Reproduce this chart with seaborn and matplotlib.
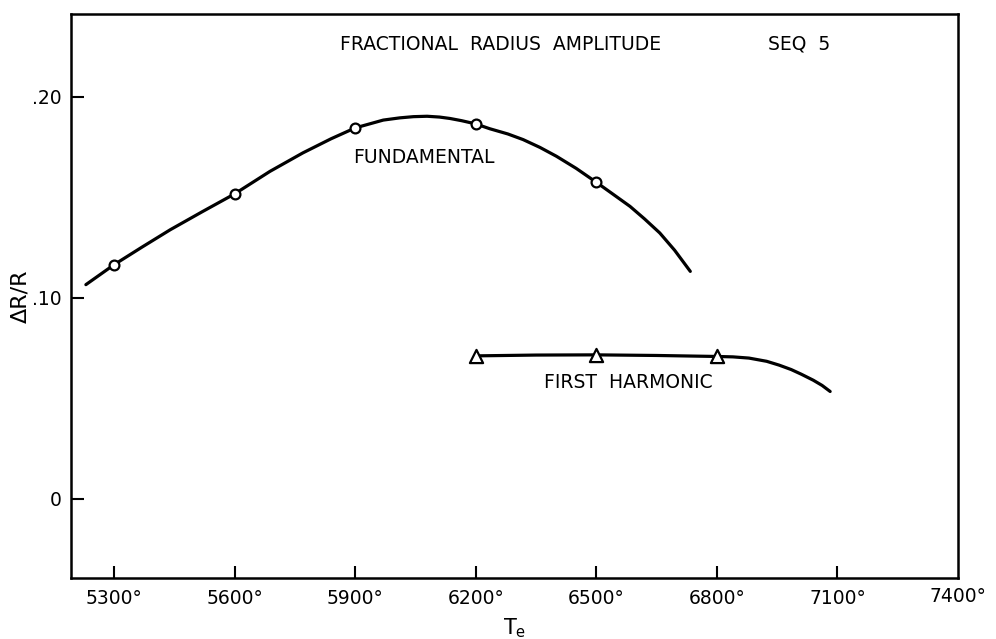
import matplotlib
matplotlib.use("Agg")
import matplotlib.pyplot as plt
import seaborn as sns
import pandas as pd

# Measured points
fund_T = [5300, 5600, 5900, 6200, 6500]
fund_amp = [0.1164, 0.1516, 0.1844, 0.1864, 0.1574]
harm_T = [6200, 6500, 6800]
harm_amp = [0.0711, 0.0716, 0.0708]

# Hand-drawn curves
fund_curve_T = [5230, 5300, 5370, 5440, 5520, 5600, 5688, 5770, 5840, 5900, 5970,
                6011, 6045, 6079, 6110, 6136, 6165, 6200, 6235, 6280, 6318, 6360,
                6401, 6450, 6500, 6540, 6584, 6620, 6658, 6695, 6734]
fund_curve_amp = [0.1065, 0.1164, 0.1252, 0.1338, 0.1428, 0.1516, 0.1628, 0.1720,
                  0.1790, 0.1844, 0.1883, 0.1894, 0.1900, 0.1902, 0.1898, 0.1891,
                  0.1880, 0.1864, 0.1840, 0.1814, 0.1786, 0.1747, 0.1703, 0.1643,
                  0.1574, 0.1517, 0.1454, 0.1392, 0.1322, 0.1236, 0.1131]
harm_curve_T = [6200, 6350, 6500, 6650, 6800, 6840, 6880, 6924, 6955, 6985, 7010,
                7040, 7062, 7082]
harm_curve_amp = [0.0711, 0.0715, 0.0716, 0.0713, 0.0708, 0.0706, 0.0700, 0.0684,
                  0.0665, 0.0643, 0.0620, 0.0590, 0.0564, 0.0534]

x_ticks = [5300, 5600, 5900, 6200, 6500, 6800, 7100, 7400]
x_ticklabels = ["5300°", "5600°", "5900°", "6200°", "6500°", "6800°", "7100°", "7400°"]
y_ticks = [0.0, 0.10, 0.20]
y_ticklabels = ["0", ".10", ".20"]

sns.set_theme(style="ticks")
plt.rcParams["font.family"] = ["DejaVu Sans"]

fig = plt.figure(figsize=(9.96, 6.39), dpi=100)
ax = fig.add_axes([0.0713, 0.0955, 0.8905, 0.8825])

fc = pd.DataFrame({"T": fund_curve_T, "amp": fund_curve_amp})
hc = pd.DataFrame({"T": harm_curve_T, "amp": harm_curve_amp})
fp = pd.DataFrame({"T": fund_T, "amp": fund_amp})
hp = pd.DataFrame({"T": harm_T, "amp": harm_amp})

sns.lineplot(data=fc, x="T", y="amp", sort=False, color="black", linewidth=2.3, ax=ax)
sns.lineplot(data=hc, x="T", y="amp", sort=False, color="black", linewidth=2.3, ax=ax)
sns.scatterplot(data=fp, x="T", y="amp", marker="o", s=50, facecolor="white",
                edgecolor="black", linewidth=1.6, zorder=5, ax=ax)
sns.scatterplot(data=hp, x="T", y="amp", marker="^", s=90, facecolor="white",
                edgecolor="black", linewidth=1.6, zorder=5, ax=ax)

ymin, ymax = -0.0393, 0.241
ax.set_xlim(5193, 7400)
ax.set_ylim(ymin, ymax)
ax.set_xticks(x_ticks[:-1])
ax.set_xticklabels(x_ticklabels[:-1])
ax.set_yticks(y_ticks)
ax.set_yticklabels(y_ticklabels)
ax.tick_params(axis="x", direction="in", length=9, width=1.5, pad=8, labelsize=13.5,
               colors="black")
ax.tick_params(axis="y", direction="in", length=9, width=1.5, pad=7, labelsize=13.5,
               colors="black")
# 7400 label sits at the right edge of the frame
ax.text(x_ticks[-1], ymin - 0.0045, x_ticklabels[-1], ha="center", va="top",
        fontsize=13.5, color="black", clip_on=False)

for s in ax.spines.values():
    s.set_linewidth(1.8)
    s.set_color("black")

ax.set_xlabel(r"T$_\mathregular{e}$", fontsize=15, labelpad=6, color="black")
ax.set_ylabel("ΔR/R", fontsize=16, color="black")
ax.yaxis.set_label_coords(-0.046, 0.5)

ax.text(6262, 0.2259, "FRACTIONAL  RADIUS  AMPLITUDE", ha="center", va="center",
        fontsize=13.5, color="black")
ax.text(7006, 0.2259, "SEQ  5", ha="center", va="center", fontsize=13.5, color="black")
ax.text(6070, 0.1697, "FUNDAMENTAL", ha="center", va="center", fontsize=13.5,
        color="black")
ax.text(6579, 0.0577, "FIRST  HARMONIC", ha="center", va="center", fontsize=13.5,
        color="black")

fig.savefig("out.png", dpi=100)
